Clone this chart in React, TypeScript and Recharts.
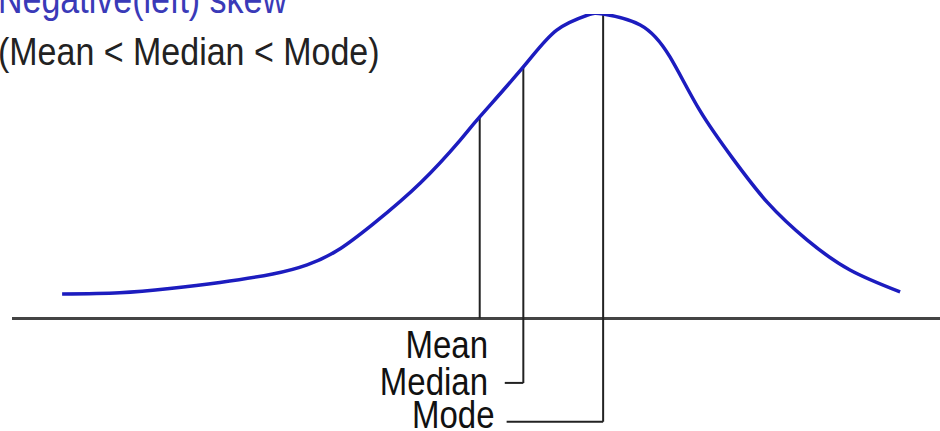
import React from 'react';
import { ComposedChart, Line, Scatter, XAxis, YAxis, ReferenceLine } from 'recharts';

// density curve (x: 0-100 position, y: 0-100 relative height)
const curveX = [5.4, 11.6, 17.0, 22.4, 28.1, 31.8, 35.0, 38.9, 44.0, 48.3, 50.4, 55.1, 58.7, 62.0, 63.7, 67.7, 70.9, 74.1, 77.7, 81.4, 85.7, 90.3, 95.7];
const curveY = [8.0, 8.4, 9.8, 11.8, 14.6, 17.6, 22.2, 31.0, 44.5, 58.6, 66.2, 82.6, 94.7, 99.6, 100, 96.4, 85.9, 68.4, 52.4, 38.1, 25.7, 15.9, 8.7];

// mean / median / mode markers
const statNames = ['Mean', 'Median', 'Mode'];
const statX = [50.4, 55.1, 63.7];
const statTop = [66.2, 82.6, 100];
const statBottom = [0, -21.2, -34.0];
const elbowX = [null, 53.1, 53.3];
const labelX = [51.3, 51.3, 52.0];
const labelY = [-13.0, -25.2, -36.0];

const title = 'Negative(left) skew';
const subtitle = '(Mean < Median < Mode)';

const curveData = curveX.map((x, i) => ({ x, y: curveY[i] }));
const labelData = statNames.map((name, i) => ({ name, x: labelX[i], y: labelY[i] }));

const FONT = '"Liberation Sans", Arial, sans-serif';

const LabelShape = (props: any) => {
  const { cx, cy, payload } = props;
  return (
    <text
      transform={`translate(${cx},${cy}) scale(1,1.2)`}
      textAnchor="end"
      fontFamily={FONT}
      fontSize={33}
      fill="#111"
    >
      {payload.name}
    </text>
  );
};

export default function App() {
  return (
    <div style={{ position: 'absolute', left: 0, top: 0, width: 940, height: 431, background: '#fff' }}>
      <ComposedChart width={940} height={431} margin={{ top: 14, right: 0, bottom: 0, left: 12 }}>
        <XAxis type="number" dataKey="x" domain={[0, 100]} allowDataOverflow hide />
        <YAxis type="number" domain={[-37, 100]} allowDataOverflow hide />
        <ReferenceLine y={0} stroke="#444" strokeWidth={3} />
        {statNames.map((name, i) => (
          <ReferenceLine
            key={name}
            segment={[{ x: statX[i], y: statTop[i] }, { x: statX[i], y: statBottom[i] }]}
            stroke="#222"
            strokeWidth={2}
          />
        ))}
        {statNames.map((name, i) =>
          elbowX[i] == null ? null : (
            <ReferenceLine
              key={name + '-elbow'}
              segment={[{ x: elbowX[i] as number, y: statBottom[i] }, { x: statX[i], y: statBottom[i] }]}
              stroke="#222"
              strokeWidth={2}
            />
          )
        )}
        <Line
          data={curveData}
          dataKey="y"
          type="natural"
          stroke="#1c1cbf"
          strokeWidth={3.5}
          dot={false}
          isAnimationActive={false}
        />
        <Scatter data={labelData} dataKey="y" shape={LabelShape} isAnimationActive={false} />
      </ComposedChart>
      <svg width={940} height={431} style={{ position: 'absolute', left: 0, top: 0, pointerEvents: 'none' }}>
        <text transform="translate(-2,13) scale(1,1.2)" fontFamily={FONT} fontSize={34} fill="#3a3ab8">
          {title}
        </text>
        <text transform="translate(-2,65) scale(1,1.12)" fontFamily={FONT} fontSize={34} fill="#222">
          {subtitle}
        </text>
      </svg>
    </div>
  );
}
